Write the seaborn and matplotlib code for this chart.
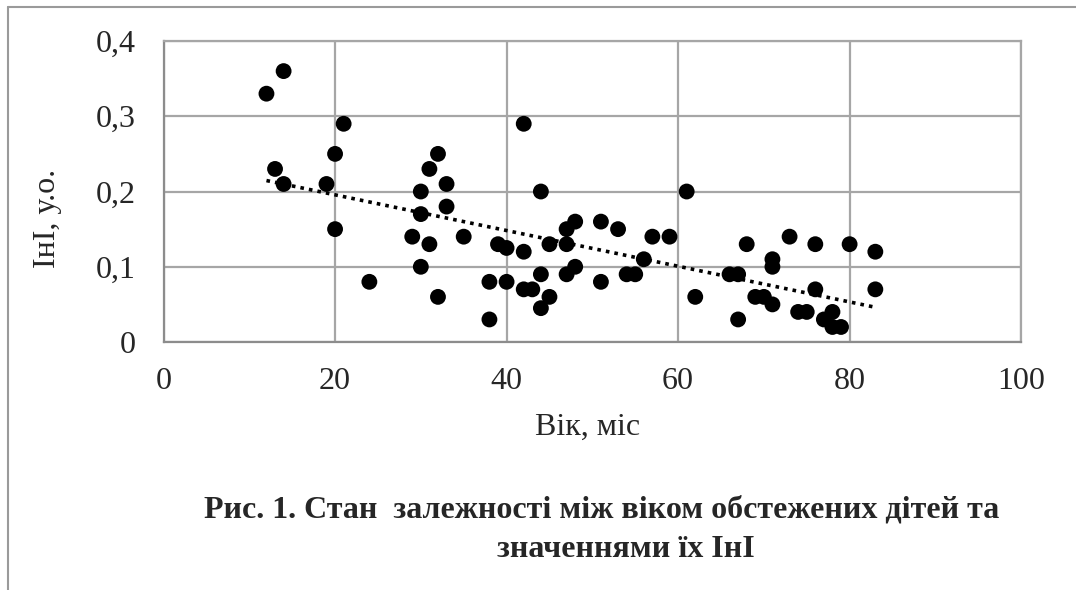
import matplotlib
matplotlib.use("Agg")
import matplotlib.pyplot as plt
import seaborn as sns
import pandas as pd
from matplotlib.lines import Line2D

# Data
age = [12, 14, 21, 20, 13, 14, 19, 20, 24,
       32, 31, 33, 30, 33, 30, 29, 31, 30, 32, 35,
       42, 44, 39, 40, 42, 45, 47, 47, 48, 51, 53, 57, 59, 56,
       38, 40, 42, 43, 44, 45, 44, 38, 47, 48, 51, 54, 55, 61, 62,
       68, 73, 76, 80, 83, 83, 66, 67, 71, 71, 69, 70, 71, 67, 74, 75, 76, 78, 77, 78, 79]
ini = [0.33, 0.36, 0.29, 0.25, 0.23, 0.21, 0.21, 0.15, 0.08,
       0.25, 0.23, 0.21, 0.20, 0.18, 0.17, 0.14, 0.13, 0.10, 0.06, 0.14,
       0.29, 0.20, 0.13, 0.125, 0.12, 0.13, 0.13, 0.15, 0.16, 0.16, 0.15, 0.14, 0.14, 0.11,
       0.08, 0.08, 0.07, 0.07, 0.09, 0.06, 0.045, 0.03, 0.09, 0.10, 0.08, 0.09, 0.09, 0.20, 0.06,
       0.13, 0.14, 0.13, 0.13, 0.12, 0.07, 0.09, 0.09, 0.11, 0.10, 0.06, 0.06, 0.05, 0.03, 0.04,
       0.04, 0.07, 0.04, 0.03, 0.02, 0.02]

x_ticks = [0, 20, 40, 60, 80, 100]
y_ticks = [0, 0.1, 0.2, 0.3, 0.4]
y_labels = ["0", "0,1", "0,2", "0,3", "0,4"]

df = pd.DataFrame({"age": age, "ini": ini})

sns.set_style("white")
plt.rcParams["font.family"] = ["Liberation Serif", "DejaVu Serif"]

fig = plt.figure(figsize=(10.76, 5.9), dpi=100)
ax = fig.add_axes([0.152, 0.4203, 0.797, 0.5102])

# scatter + linear trendline
sns.scatterplot(data=df, x="age", y="ini", ax=ax, color="black", s=130,
                edgecolor="none", zorder=3)
sns.regplot(data=df, x="age", y="ini", ax=ax, scatter=False, ci=None,
            truncate=True, color="black",
            line_kws={"linestyle": (0, (1, 1.4)), "linewidth": 2.6, "zorder": 4})

ax.set_xlim(0, 100)
ax.set_ylim(0, 0.4)
ax.set_xticks(x_ticks)
ax.set_xticklabels([str(t) for t in x_ticks], fontsize=23)
ax.set_yticks(y_ticks)
ax.set_yticklabels(y_labels, fontsize=23)
ax.tick_params(axis="x", length=0, pad=18)
ax.tick_params(axis="y", length=0, pad=20)
ax.grid(True, color="#a6a6a6", linewidth=1.6)
ax.set_axisbelow(True)
for s in ax.spines.values():
    s.set_color("#a6a6a6")
    s.set_linewidth(1.6)
ax.spines["bottom"].set_color("#8c8c8c")
ax.spines["left"].set_color("#8c8c8c")

ax.set_xlabel("Вік, міс", fontsize=23)
ax.xaxis.set_label_coords(0.495, -0.235)
ax.set_ylabel("ІнІ, у.о.", fontsize=23)
ax.yaxis.set_label_coords(-0.118, 0.412)

# title under the chart
fig.text(0.5595, 0.1356, "Рис. 1. Стан  залежності між віком обстежених дітей та",
         ha="center", va="center", fontsize=23, fontweight="bold")
fig.text(0.582, 0.0678, "значеннями їх ІнІ",
         ha="center", va="center", fontsize=23, fontweight="bold")

# frame of the chart box
fig.add_artist(Line2D([0.0075, 1.0], [0.988, 0.988], color="#9a9a9a", linewidth=1.5))
fig.add_artist(Line2D([0.0075, 0.0075], [0.0, 0.988], color="#9a9a9a", linewidth=1.5))

fig.savefig("out.png", dpi=100)
